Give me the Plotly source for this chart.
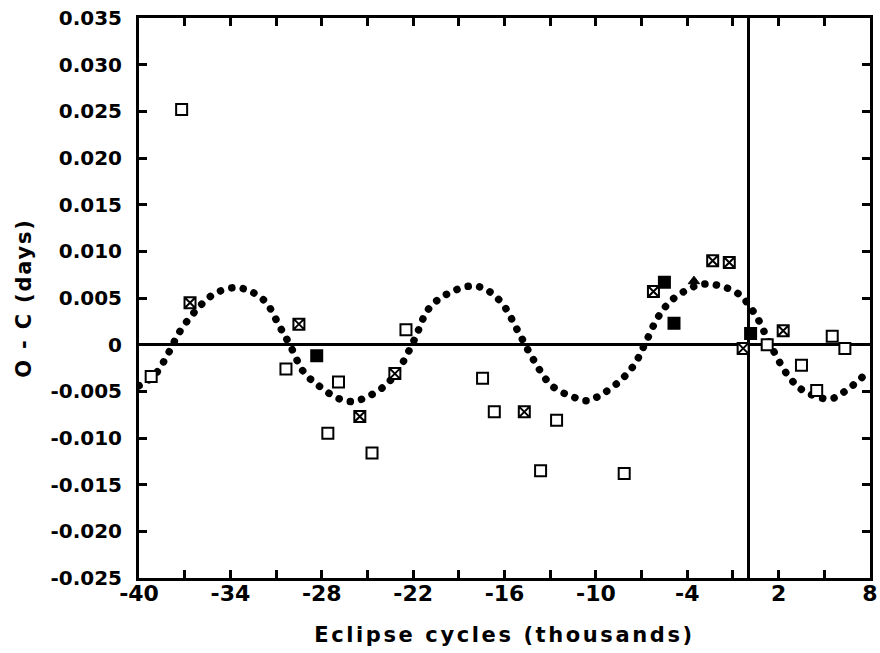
import plotly.graph_objects as go

# ---- data ----
curve_x = [-40.0, -39.0, -38.0, -37.4, -36.3, -35.1, -33.8, -32.8, -31.7, -30.75, -30.1,
           -29.2, -28.2, -27.0, -26.1, -25.3, -23.85, -22.9, -21.9, -21.0, -19.8, -18.1,
           -17.1, -16.1, -15.1, -14.1, -12.9, -11.5, -10.6, -9.8, -8.5, -7.5, -6.8, -5.9,
           -5.0, -3.6, -2.8, -1.85, -0.6, 0.55, 1.45, 2.7, 3.7, 5.4, 6.6, 8.0]
curve_y = [-0.0044, -0.0033, -0.0007, 0.0012, 0.0036, 0.0054, 0.0061, 0.0058, 0.0046, 0.0019, 0.0000,
           -0.0029, -0.0044, -0.0057, -0.0061, -0.0058, -0.0044, -0.0025, 0.0006, 0.0038, 0.0054, 0.0063,
           0.0058, 0.0043, 0.0014, -0.0016, -0.0044, -0.0056, -0.0060, -0.0055, -0.0040, -0.0022, 0.0000, 0.0030,
           0.0048, 0.0062, 0.0065, 0.0063, 0.0054, 0.0030, 0.0000, -0.0035, -0.0050, -0.0058, -0.0047, -0.0027]

open_x = [-37.2, -39.2, -30.35, -26.9, -27.6, -24.7, -22.47, -17.44, -16.67, -12.58, -13.63,
          -8.14, 1.25, 3.5, 4.5, 5.52, 6.35]
open_y = [0.0252, -0.0034, -0.0026, -0.0040, -0.0095, -0.0116, 0.0016, -0.0036, -0.0072, -0.0081, -0.0135,
          -0.0138, 0.0000, -0.0022, -0.0049, 0.0009, -0.0004]

cross_x = [-36.65, -29.5, -25.5, -23.2, -14.7, -6.22, -2.33, -1.24, -0.33, 2.3]
cross_y = [0.0045, 0.0022, -0.0077, -0.0031, -0.0072, 0.0057, 0.0090, 0.0088, -0.0004, 0.0015]

filled_x = [-28.33, -5.5, -4.87, 0.16]
filled_y = [-0.0012, 0.0067, 0.0023, 0.0012]

tri_x = [-3.56]
tri_y = [0.0068]

x_tickvals = [-40, -34, -28, -22, -16, -10, -4, 2, 8]
x_ticktext = ["-40", "-34", "-28", "-22", "-16", "-10", "-4", "2", "8"]
x_minor = [-37, -31, -25, -19, -13, -7, -1, 5]
y_tickvals = [-0.025, -0.020, -0.015, -0.010, -0.005, 0, 0.005, 0.010, 0.015, 0.020, 0.025, 0.030, 0.035]
y_ticktext = ["-0.025", "-0.020", "-0.015", "-0.010", "-0.005", "0", "0.005", "0.010",
              "0.015", "0.020", "0.025", "0.030", "0.035"]

FONT = "DejaVu Sans"

fig = go.Figure()
fig.add_trace(go.Scatter(x=curve_x, y=curve_y, mode="lines",
                         line=dict(color="black", width=7.5, shape="spline", dash="6px,6px"),
                         hoverinfo="skip", showlegend=False))
mk = dict(size=11, line=dict(color="black", width=2))
fig.add_trace(go.Scatter(x=open_x, y=open_y, mode="markers",
                         marker=dict(symbol="square", color="white", **mk), showlegend=False))
fig.add_trace(go.Scatter(x=cross_x, y=cross_y, mode="markers",
                         marker=dict(symbol="square-x", color="white", **mk), showlegend=False))
fig.add_trace(go.Scatter(x=filled_x, y=filled_y, mode="markers",
                         marker=dict(symbol="square", color="black", **mk), showlegend=False))
fig.add_trace(go.Scatter(x=tri_x, y=tri_y, mode="markers",
                         marker=dict(symbol="triangle-up", color="black", size=10,
                                     line=dict(color="black", width=1)), showlegend=False))

axis_common = dict(showgrid=False, showline=True, linecolor="black", linewidth=3, mirror="ticks",
                   ticks="inside", ticklen=8, tickwidth=2.5, tickcolor="black",
                   zeroline=True, zerolinecolor="black", zerolinewidth=2.5, automargin=False)

fig.update_xaxes(range=[-40, 8], tickvals=x_tickvals, ticktext=x_ticktext,
                 minor=dict(tickvals=x_minor, ticks="inside", ticklen=8, tickwidth=2.5, tickcolor="black"),
                 tickfont=dict(family=FONT, size=22, color="black", weight="bold"),
                 title=dict(text="Eclipse cycles (thousands)", standoff=22,
                            font=dict(family=FONT, size=21, color="black", weight="bold")),
                 ticklabelstandoff=-6,
                 **axis_common)
fig.update_yaxes(range=[-0.025, 0.035], tickvals=y_tickvals, ticktext=y_ticktext,
                 tickfont=dict(family=FONT, size=20, color="black", weight="bold"),
                 title=dict(text="O - C (days)", standoff=14,
                            font=dict(family=FONT, size=21, color="black", weight="bold")),
                 ticklabelstandoff=10,
                 **axis_common)

fig.update_layout(width=880, height=653, autosize=False,
                  margin=dict(l=139, r=10, t=18, b=75),
                  plot_bgcolor="white", paper_bgcolor="white")

post = ("document.querySelectorAll('path.js-line').forEach(function(p){"
        "p.style.strokeLinecap='round';p.style.strokeDasharray='0.1px,11.5px';});"
        "document.querySelectorAll('text.xtitle').forEach(function(t){"
        "t.style.letterSpacing='2.6px';});"
        "document.querySelectorAll('text.ytitle').forEach(function(t){"
        "t.style.letterSpacing='1.8px';});")
fig.write_html("out.html", post_script=post)
